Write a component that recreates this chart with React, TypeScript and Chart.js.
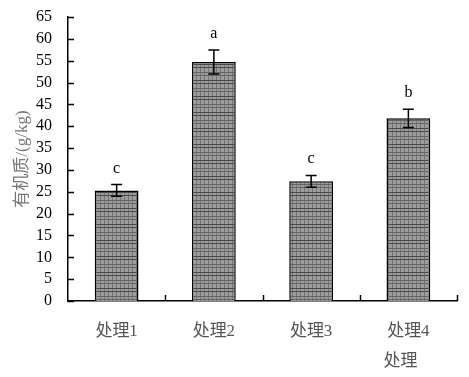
import React, { useEffect, useRef } from 'react';
import { Chart, registerables } from 'chart.js';
Chart.register(...registerables);

const categories = ['处理1', '处理2', '处理3', '处理4'];
const values = [25.3, 54.7, 27.4, 41.8];
const errors = [1.35, 2.75, 1.35, 2.1];
const letters = ['c', 'a', 'c', 'b'];
const yMin = 0;
const yMax = 65;
const yStep = 5;
const xTitle = '处理';
const yTitle = '有机质/(g/kg)';

const SERIF = '"Liberation Serif", "Noto Sans CJK SC", serif';

function makePattern(): CanvasPattern | string {
  const c = document.createElement('canvas');
  c.width = 4;
  c.height = 16;
  const g = c.getContext('2d');
  if (!g) return '#999';
  g.fillStyle = '#9c9c9c';
  g.fillRect(0, 0, 4, 16);
  g.fillStyle = '#767676';
  g.fillRect(0, 0, 1, 16);
  g.fillStyle = '#4a4a4a';
  g.fillRect(0, 0, 4, 1);
  g.fillRect(0, 3, 4, 1);
  g.fillStyle = '#646464';
  g.fillRect(0, 8, 4, 1);
  g.fillRect(0, 11, 4, 1);
  const p = g.createPattern(c, 'repeat');
  return p || '#999';
}

const extrasPlugin = {
  id: 'extras',
  afterDatasetsDraw(chart: any) {
    const ctx = chart.ctx;
    const xs = chart.scales.x;
    const ys = chart.scales.y;
    const area = chart.chartArea;
    ctx.save();
    ctx.strokeStyle = '#000';
    ctx.lineWidth = 1.5;
    ys.ticks.forEach((t: any) => {
      const y = Math.round(ys.getPixelForValue(t.value)) + 0.5;
      ctx.beginPath();
      ctx.moveTo(area.left, y);
      ctx.lineTo(area.left + 6, y);
      ctx.stroke();
    });
    const step = xs.getPixelForValue(1) - xs.getPixelForValue(0);
    categories.forEach((_, i) => {
      const x = Math.round(xs.getPixelForValue(i) + step / 2) + 0.5;
      ctx.beginPath();
      ctx.moveTo(x, area.bottom);
      ctx.lineTo(x, area.bottom - 6);
      ctx.stroke();
    });
    values.forEach((v, i) => {
      const x = xs.getPixelForValue(i);
      const yt = ys.getPixelForValue(v + errors[i]);
      const yb = ys.getPixelForValue(v - errors[i]);
      ctx.strokeStyle = '#000';
      ctx.lineWidth = 1.5;
      ctx.beginPath();
      ctx.moveTo(x, yt);
      ctx.lineTo(x, yb);
      ctx.moveTo(x - 5.5, yt);
      ctx.lineTo(x + 5.5, yt);
      ctx.moveTo(x - 5.5, yb);
      ctx.lineTo(x + 5.5, yb);
      ctx.stroke();
      ctx.fillStyle = '#000';
      ctx.font = '16px ' + SERIF;
      ctx.textAlign = 'center';
      ctx.textBaseline = 'alphabetic';
      ctx.fillText(letters[i], x, yt - 12);
    });
    ctx.fillStyle = '#555';
    ctx.font = '17px ' + SERIF;
    ctx.textAlign = 'center';
    ctx.textBaseline = 'middle';
    ctx.fillText(xTitle, xs.getPixelForValue(categories.length - 1) - 8, 362);
    ctx.restore();
  },
};

export default function App() {
  const ref = useRef<HTMLCanvasElement>(null);
  useEffect(() => {
    document.body.style.margin = '0';
    if (!ref.current) return;
    const chart = new Chart(ref.current, {
      type: 'bar',
      data: {
        labels: categories,
        datasets: [
          {
            data: values,
            backgroundColor: makePattern() as any,
            borderColor: '#000',
            borderWidth: 1.5,
            barPercentage: 0.45,
            categoryPercentage: 1,
          },
        ],
      },
      options: {
        animation: false,
        responsive: false,
        maintainAspectRatio: false,
        layout: { padding: { top: 17, right: 12, left: 0, bottom: 0 } },
        plugins: { legend: { display: false }, tooltip: { enabled: false } },
        scales: {
          x: {
            grid: { display: false, drawTicks: false },
            border: { color: '#000', width: 1.5 },
            ticks: {
              padding: 20,
              color: '#555',
              font: { family: SERIF, size: 17 },
              maxRotation: 0,
              autoSkip: false,
            },
            afterFit(scale: any) {
              scale.height = 76;
              scale.paddingLeft = 0;
              scale.paddingRight = 0;
            },
          },
          y: {
            min: yMin,
            max: yMax,
            grid: { display: false, drawTicks: false },
            border: { color: '#000', width: 1.5 },
            ticks: {
              stepSize: yStep,
              padding: 16,
              color: '#000',
              font: { family: SERIF, size: 16 },
              autoSkip: false,
            },
            title: {
              display: true,
              text: yTitle,
              color: '#777',
              font: { family: SERIF, size: 17 },
              padding: { top: 12, bottom: 0 },
            },
            afterFit(scale: any) {
              scale.width = 68;
              scale.paddingTop = 0;
              scale.paddingBottom = 0;
            },
          },
        },
      },
      plugins: [extrasPlugin],
    });
    return () => chart.destroy();
  }, []);
  return <canvas ref={ref} width={469} height={377} style={{ display: 'block' }} />;
}
